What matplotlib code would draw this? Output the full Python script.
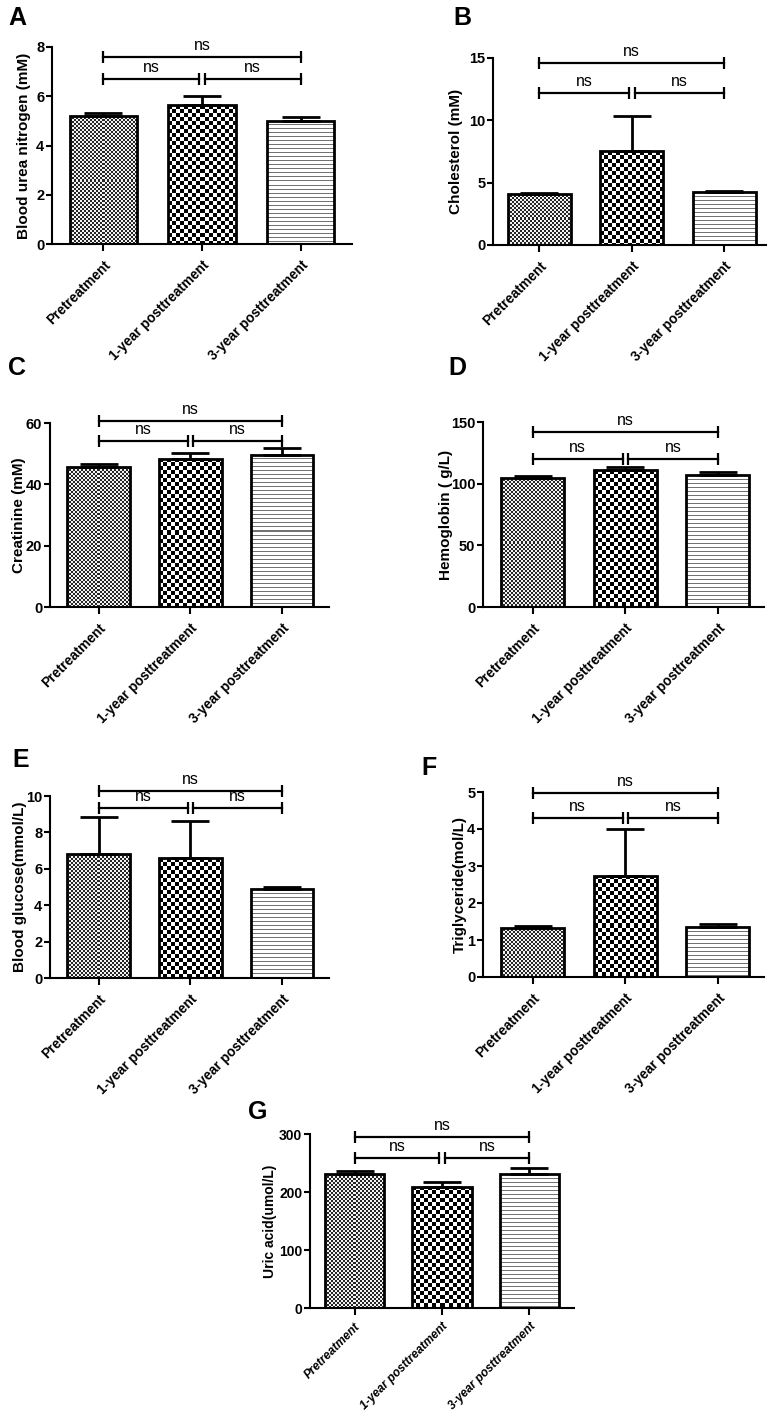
import numpy as np
import matplotlib
matplotlib.use('Agg')
import matplotlib.pyplot as plt
from matplotlib import font_manager

plt.rcParams['font.family'] = ['Liberation Sans', 'DejaVu Sans']

# 数据：三个时间点
categories = ['Pretreatment', '1-year posttreatment', '3-year posttreatment']

bun_mean = [5.2, 5.64, 5.0]
bun_err = [0.12, 0.37, 0.16]
chol_mean = [4.1, 7.54, 4.25]
chol_err = [0.08, 2.8, 0.12]
crea_mean = [45.6, 48.3, 49.6]
crea_err = [1.0, 1.9, 2.2]
hb_mean = [104.6, 111.0, 107.0]
hb_err = [1.5, 2.5, 2.5]
glu_mean = [6.81, 6.59, 4.89]
glu_err = [2.04, 2.04, 0.10]
tg_mean = [1.33, 2.74, 1.34]
tg_err = [0.06, 1.25, 0.10]
ua_mean = [231, 209, 231]
ua_err = [5, 8, 10]

# 显著性标注高度 (下层, 上层)
bun_sig = (6.70, 7.59)
chol_sig = (12.2, 14.6)
crea_sig = (54.1, 60.5)
hb_sig = (120, 142)
glu_sig = (9.34, 10.27)
tg_sig = (4.30, 4.97)
ua_sig = (259, 295)

W, H = 772, 1417
fig = plt.figure(figsize=(W / 100, H / 100), dpi=100)

have_narrow = any('Liberation Sans Narrow' == f.name for f in font_manager.fontManager.ttflist)
narrow = ['Liberation Sans Narrow', 'Liberation Sans', 'DejaVu Sans'] if have_narrow else ['Liberation Sans', 'DejaVu Sans']


def texture(kind, h, w):
    i, j = np.mgrid[0:h, 0:w]
    if kind == 0:
        return np.where((i // 2 + j // 2) % 2 == 0, 0.15, 0.95)
    if kind == 1:
        return np.where((i // 4 + j // 4) % 2 == 0, 0.0, 1.0)
    return np.where(i % 4 == 0, 0.45, 1.0)


def panel(box, xlim, means, errs, yticks, ylabel, sig, letter, letter_xy, label_x, cond=False):
    l, r, t, b = box
    ax = fig.add_axes([l / W, 1 - b / H, (r - l) / W, (b - t) / H])
    ax.set_xlim(*xlim)
    ax.set_ylim(0, yticks[-1])
    x = np.arange(len(means))
    width = 0.68
    bars = ax.bar(x, means, width=width, facecolor='none', edgecolor='black',
                  linewidth=2.0, zorder=3)
    for k, bar in enumerate(bars):
        x0, x1 = x[k] - width / 2, x[k] + width / 2
        p0 = ax.transData.transform((x0, 0))
        p1 = ax.transData.transform((x1, means[k]))
        w = max(int(round(p1[0] - p0[0])), 1)
        h = max(int(round(p1[1] - p0[1])), 1)
        im = ax.imshow(texture(k, h, w), cmap='gray', vmin=0, vmax=1,
                       extent=(x0, x1, 0, means[k]), interpolation='nearest',
                       aspect='auto', zorder=1)
        im.set_clip_path(bar)
    ax.errorbar(x, means, yerr=[np.zeros(len(errs)), errs], fmt='none',
                ecolor='black', elinewidth=2.0, capsize=14, capthick=2.0, zorder=2)
    ax.set_xlim(*xlim)
    ax.set_ylim(0, yticks[-1])

    tfam = narrow if cond else ['Liberation Sans', 'DejaVu Sans']
    ax.set_yticks(yticks)
    ax.set_yticklabels([str(v) for v in yticks], fontsize=10 if cond else 10.5,
                       fontweight='bold', family=tfam)
    ax.set_xticks(x)
    ax.set_xticklabels(categories, rotation=45, ha='right', rotation_mode='anchor',
                       fontsize=8.6 if cond else 9.8, fontweight='bold', family=tfam,
                       style='italic' if cond else 'normal')
    ax.tick_params(axis='y', length=4, width=1.5, pad=1.5)
    ax.tick_params(axis='x', length=5, width=1.5, pad=4 if cond else 5)
    for s in ['top', 'right']:
        ax.spines[s].set_visible(False)
    for s in ['left', 'bottom']:
        ax.spines[s].set_linewidth(1.5)

    ax.set_ylabel(ylabel, fontsize=11 if not cond else 10, fontweight='bold')
    ax.yaxis.label.set_va('center')
    ax.yaxis.set_label_coords((label_x - l) / (r - l), 0.5)

    # 显著性括号
    lo, hi = sig
    segs = [(x[0], x[1] - 0.03, lo), (x[1] + 0.03, x[2], lo), (x[0], x[2], hi)]
    for xa, xb, yy in segs:
        ax.plot([xa, xb], [yy, yy], color='black', lw=1.6, clip_on=False, zorder=4)
        ax.plot([xa, xb], [yy, yy], ls='none', marker='|', markersize=8,
                markeredgewidth=1.6, color='black', clip_on=False, zorder=4)
        ax.annotate('ns', ((xa + xb) / 2, yy), xytext=(0, 3), textcoords='offset points',
                    ha='center', va='bottom', fontsize=11.5, family=tfam,
                    annotation_clip=False)

    fig.text(letter_xy[0] / W, 1 - letter_xy[1] / H, letter, fontsize=18, fontweight='bold',
             ha='center', va='center', family=tfam)
    return ax


panel((52, 352, 47, 244), (-0.52, 2.52), bun_mean, bun_err, [0, 2, 4, 6, 8],
      'Blood urea nitrogen (mM)', bun_sig, 'A', (17, 18), 24)
panel((493, 766, 58, 245), (-0.50, 2.45), chol_mean, chol_err, [0, 5, 10, 15],
      'Cholesterol (mM)', chol_sig, 'B', (462, 18), 456)
panel((50, 329, 423, 607), (-0.53, 2.51), crea_mean, crea_err, [0, 20, 40, 60],
      'Creatinine (mM)', crea_sig, 'C', (17, 368), 19)
panel((483, 764, 422, 607), (-0.54, 2.50), hb_mean, hb_err, [0, 50, 100, 150],
      'Hemoglobin ( g/L)', hb_sig, 'D', (457, 368), 446)
panel((50, 329, 796, 978), (-0.53, 2.51), glu_mean, glu_err, [0, 2, 4, 6, 8, 10],
      'Blood glucose(mmol/L)', glu_sig, 'E', (21, 760), 20)
panel((483, 764, 792, 977), (-0.54, 2.50), tg_mean, tg_err, [0, 1, 2, 3, 4, 5],
      'Triglyceride(mol/L)', tg_sig, 'F', (429, 768), 460)
panel((310, 574, 1134, 1308), (-0.51, 2.51), ua_mean, ua_err, [0, 100, 200, 300],
      'Uric acid(umol/L)', ua_sig, 'G', (258, 1112), 270, cond=True)

fig.savefig('out.png', dpi=100, facecolor='white')
